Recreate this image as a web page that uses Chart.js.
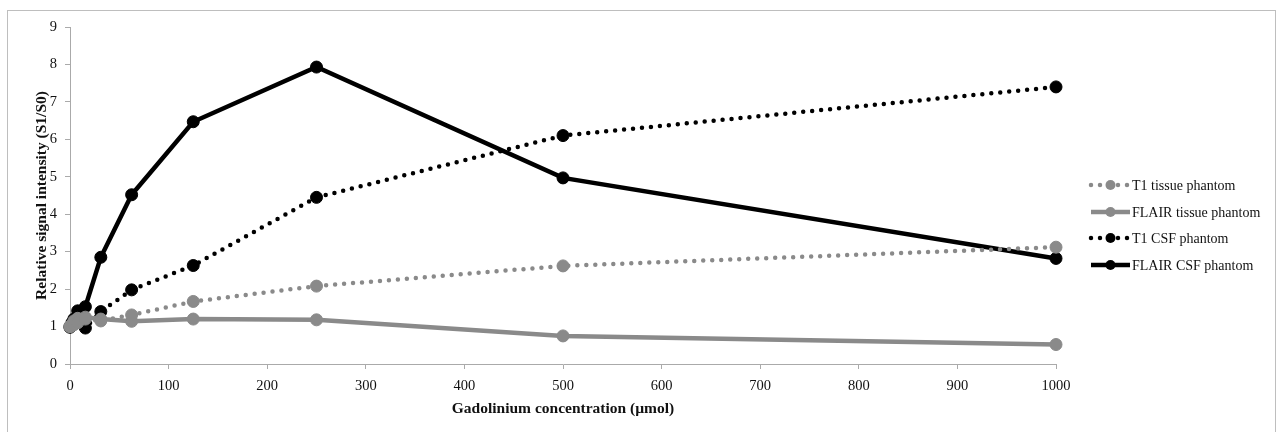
<!DOCTYPE html>
<html>
<head>
<meta charset="utf-8">
<script src="https://cdn.jsdelivr.net/npm/chart.js@4/dist/chart.umd.min.js"></script>
<style>
    body { margin: 0; background: #fff; }
    #wrap { width: 1277px; height: 432px; }
</style>
</head>
<body>
<div id="wrap"><canvas id="signalChart" width="1277" height="432"></canvas></div>
<script>
// Concentrations (x) and relative signal for each phantom
const concentration = [0, 1.95, 3.9, 7.8, 15.6, 31.25, 62.5, 125, 250, 500, 1000];
const t1Tissue = [1.0, 1.02, 1.05, 1.1, 1.2, 1.15, 1.31, 1.67, 2.08, 2.62, 3.12];
const flairTissue = [1.0, 1.05, 1.15, 1.22, 1.25, 1.2, 1.14, 1.2, 1.18, 0.75, 0.52];
const t1Csf = [1.0, 1.02, 1.08, 1.15, 0.96, 1.4, 1.98, 2.63, 4.45, 6.1, 7.4];
const flairCsf = [0.98, 1.1, 1.2, 1.42, 1.53, 2.85, 4.52, 6.47, 7.93, 4.97, 2.82];

const seriesNames = ['T1 tissue phantom', 'FLAIR tissue phantom', 'T1 CSF phantom', 'FLAIR CSF phantom'];
const xTicks = [0, 100, 200, 300, 400, 500, 600, 700, 800, 900, 1000];
const yTicks = [0, 1, 2, 3, 4, 5, 6, 7, 8, 9];

const GRAY = 'rgb(138, 138, 138)';
const BLACK = 'rgb(0, 0, 0)';
const AXIS = 'rgb(170, 170, 170)';
const SERIF = '"Liberation Serif", "Times New Roman", serif';

function pts(values) {
    return values.map((v, i) => ({ x: concentration[i], y: v }));
}

function makeSet(label, values, color, dotted) {
    return {
        label: label,
        data: pts(values),
        borderColor: color,
        backgroundColor: color,
        pointBackgroundColor: color,
        pointBorderColor: color,
        borderWidth: 4.5,
        borderDash: dotted ? [0, 9] : [],
        borderCapStyle: dotted ? 'round' : 'butt',
        pointRadius: 6,
        pointBorderWidth: 1,
        tension: 0,
        fill: false,
        clip: false
    };
}

// Border around the whole figure
const frame = {
    id: 'frame',
    beforeDraw(chart) {
        const c = chart.ctx;
        c.save();
        c.fillStyle = '#fff';
        c.fillRect(0, 0, chart.width, chart.height);
        c.strokeStyle = 'rgb(190, 190, 190)';
        c.lineWidth = 1;
        c.strokeRect(7.5, 10.5, 1268, 440);
        c.restore();
    }
};

// Legend drawn as line + marker samples like the original
const sideLegend = {
    id: 'sideLegend',
    afterDraw(chart) {
        const c = chart.ctx;
        const x0 = 1091, x1 = 1130;
        const rows = [185, 212, 238, 265];
        c.save();
        chart.data.datasets.forEach((ds, i) => {
            const y = rows[i];
            c.strokeStyle = ds.borderColor;
            c.fillStyle = ds.borderColor;
            c.lineWidth = ds.borderWidth;
            c.lineCap = ds.borderCapStyle;
            c.setLineDash(ds.borderDash);
            c.beginPath();
            c.moveTo(x0, y);
            c.lineTo(x1, y);
            c.stroke();
            c.setLineDash([]);
            c.beginPath();
            c.arc((x0 + x1) / 2, y, 5, 0, Math.PI * 2);
            c.fill();
            c.fillStyle = '#111';
            c.font = '14px ' + SERIF;
            c.textBaseline = 'middle';
            c.textAlign = 'left';
            c.fillText(ds.label, x1 + 2, y + 1);
        });
        c.restore();
    }
};

const ctx = document.getElementById('signalChart').getContext('2d');

const signalChart = new Chart(ctx, {
    type: 'line',
    data: {
        datasets: [
            makeSet(seriesNames[0], t1Tissue, GRAY, true),
            makeSet(seriesNames[1], flairTissue, GRAY, false),
            makeSet(seriesNames[2], t1Csf, BLACK, true),
            makeSet(seriesNames[3], flairCsf, BLACK, false)
        ]
    },
    options: {
        responsive: false,
        animation: false,
        layout: { padding: { left: 33, right: 221, top: 27, bottom: 14 } },
        plugins: {
            legend: { display: false },
            tooltip: { enabled: false }
        },
        scales: {
            x: {
                type: 'linear',
                min: 0,
                max: 1000,
                afterBuildTicks: (axis) => { axis.ticks = xTicks.map(v => ({ value: v })); },
                afterFit: (axis) => { axis.height = 54; },
                border: { color: AXIS, width: 1 },
                grid: { drawOnChartArea: false, color: AXIS, tickLength: 5 },
                ticks: {
                    color: '#111',
                    padding: 8,
                    maxRotation: 0,
                    callback: (v) => String(v),
                    font: { family: SERIF, size: 14.5 }
                },
                title: {
                    display: true,
                    text: 'Gadolinium concentration (µmol)',
                    color: '#111',
                    padding: { top: 4, bottom: 0 },
                    font: { family: SERIF, size: 15.5, weight: 'bold' }
                }
            },
            y: {
                min: 0,
                max: 9,
                afterBuildTicks: (axis) => { axis.ticks = yTicks.map(v => ({ value: v })); },
                afterFit: (axis) => { axis.width = 37; },
                border: { color: AXIS, width: 1 },
                grid: { drawOnChartArea: false, color: AXIS, tickLength: 5 },
                ticks: {
                    color: '#111',
                    padding: 8,
                    font: { family: SERIF, size: 14.5 }
                },
                title: {
                    display: true,
                    text: 'Relative signal intensity (S1/S0)',
                    color: '#111',
                    padding: { top: 0, bottom: 0 },
                    font: { family: SERIF, size: 15.5, weight: 'bold' }
                }
            }
        }
    },
    plugins: [frame, sideLegend]
});
</script>
</body>
</html>
